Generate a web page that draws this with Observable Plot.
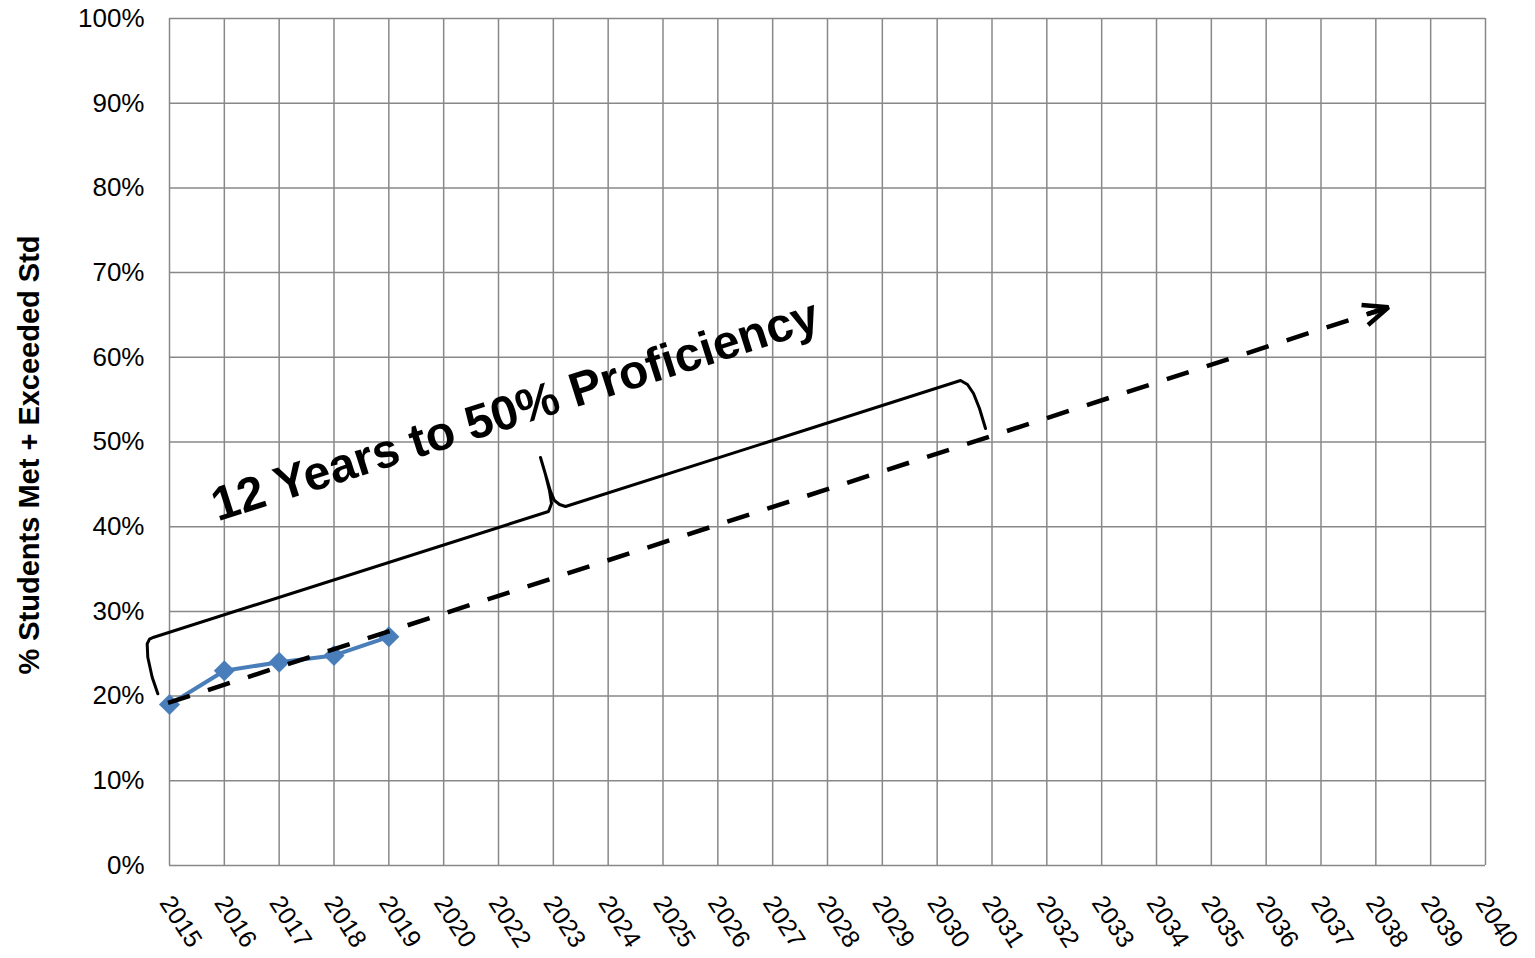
<!DOCTYPE html>
<html>
<head>
<meta charset="utf-8">
<script src="https://cdn.jsdelivr.net/npm/d3@7"></script>
<script src="https://cdn.jsdelivr.net/npm/@observablehq/plot@0.6"></script>
<style>
  html, body { margin: 0; padding: 0; background: #fff; overflow: hidden; }
  svg { display: block; }
</style>
</head>
<body>
<div id="chart"></div>
<script>
// Category axis (note: 2021 is absent in the original)
const years = ["2015","2016","2017","2018","2019","2020","2022","2023","2024","2025","2026","2027","2028","2029","2030","2031","2032","2033","2034","2035","2036","2037","2038","2039","2040"];
const yTicks = [0, 10, 20, 30, 40, 50, 60, 70, 80, 90, 100];

// Actual results (% Students Met + Exceeded Std)
const actualYears = ["2015","2016","2017","2018","2019"];
const actualPct = [19, 23, 24, 24.8, 27];

// Trend projection (category index, percent), listed from arrow tip back to start
const trendIdx = [22.23, -0.213];
const trendPct = [65.9, 18.8];

// Brace annotation path (category index, percent)
const braceIdx = [-0.213, -0.316, -0.396, -0.407, -0.365, -0.286, 6.912, 6.967, 6.930, 6.857, 6.766, 6.857, 6.948, 7.021, 7.113, 7.222, 14.426, 14.553, 14.663, 14.772, 14.882];
const bracePct = [20.27, 22.23, 24.59, 26.17, 26.72, 26.95, 41.79, 42.74, 44.27, 46.16, 48.17, 46.16, 44.16, 43.09, 42.62, 42.38, 57.26, 56.79, 55.73, 53.95, 51.59];

// Annotation text and anchor (category index, percent)
const noteText = ["12 Years to 50% Proficiency"];
const noteIdx = [0.88];
const notePct = [40.6];

const yTitle = ["% Students Met + Exceeded Std"];

const xIdx = years.map((_, i) => i);
const actual = actualPct.map((v, i) => ({x: years.indexOf(actualYears[i]), y: v}));
const trend = trendIdx.map((v, i) => ({x: v, y: trendPct[i]}));
const trendSeg = [{x1: trendIdx[1], y1: trendPct[1], x2: trendIdx[0], y2: trendPct[0]}];
const brace = braceIdx.map((v, i) => ({x: v, y: bracePct[i]}));
const note = noteText.map((t, i) => ({t, x: noteIdx[i], y: notePct[i]}));

const FONT = "'Liberation Sans', Arial, Helvetica, sans-serif";
const GRID = "#888888";
const BLUE = "#4A7EBB";

const chart = Plot.plot({
  width: 1535,
  height: 958,
  marginLeft: 169,
  marginRight: 50,
  marginTop: 18,
  marginBottom: 93,
  style: {fontFamily: FONT, background: "#fff", color: "#000", overflow: "visible"},
  x: {type: "linear", domain: [0, years.length - 1]},
  y: {type: "linear", domain: [0, 100]},
  marks: [
    Plot.ruleX(xIdx, {x: d => d, stroke: GRID, strokeWidth: 1.5}),
    Plot.ruleY(yTicks, {y: d => d, stroke: GRID, strokeWidth: 1.5}),
    Plot.axisY({ticks: yTicks, tickFormat: d => d + "%", tickSize: 0, tickPadding: 25, fontSize: 26, label: null}),
    Plot.axisX({ticks: xIdx, tickFormat: i => years[i], tickSize: 0, tickPadding: 33, tickRotate: 57,
                textAnchor: "start", lineAnchor: "middle", dx: -4, fontSize: 25, label: null}),
    Plot.text(yTitle, {text: d => d, frameAnchor: "left", dx: -131, dy: 13, rotate: -90,
                       textAnchor: "middle", lineAnchor: "bottom", fontSize: 29, fontWeight: "bold"}),
    Plot.line(actual, {x: "x", y: "y", stroke: BLUE, strokeWidth: 4}),
    Plot.dot(actual, {x: "x", y: "y", symbol: "diamond2", r: 9.5, fill: BLUE, stroke: "none"}),
    Plot.line(trend, {x: "x", y: "y", stroke: "#000", strokeWidth: 4.5, strokeDasharray: "23,19", strokeLinecap: "butt"}),
    Plot.arrow(trendSeg, {x1: "x1", y1: "y1", x2: "x2", y2: "y2", stroke: "#000", strokeWidth: 4.5,
                          insetStart: 1272, headLength: 9, headAngle: 46, strokeLinecap: "butt"}),
    Plot.line(brace, {x: "x", y: "y", stroke: "#000", strokeWidth: 3, strokeLinejoin: "round", strokeLinecap: "round"}),
    Plot.text(note, {x: "x", y: "y", text: "t", rotate: -17.7, textAnchor: "start", lineAnchor: "bottom",
                     fontSize: 48, fontWeight: "bold", fill: "#000"})
  ]
});
document.getElementById("chart").append(chart);
</script>
</body>
</html>
